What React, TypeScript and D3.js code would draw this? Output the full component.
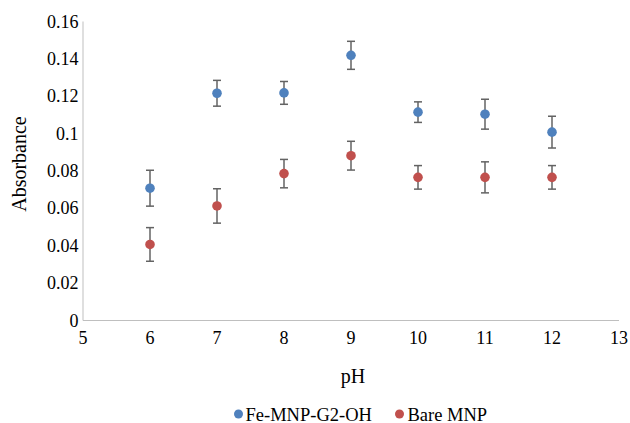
import React from "react";
import * as d3 from "d3";

const phValues = [6, 7, 8, 9, 10, 11, 12];
const feMnpValues = [0.0708, 0.1216, 0.1218, 0.1419, 0.1115, 0.1104, 0.1008];
const feMnpErrors = [0.0096, 0.0069, 0.0061, 0.0075, 0.0055, 0.008, 0.0085];
const bareValues = [0.0407, 0.0613, 0.0786, 0.0882, 0.0766, 0.0766, 0.0766];
const bareErrors = [0.009, 0.0092, 0.0076, 0.0077, 0.0063, 0.0083, 0.0063];
const xTicks = [5, 6, 7, 8, 9, 10, 11, 12, 13];
const yTicks = [0, 0.02, 0.04, 0.06, 0.08, 0.1, 0.12, 0.14, 0.16];
const seriesNames = ["Fe-MNP-G2-OH", "Bare MNP"];
const seriesColors = ["#4F81BD", "#C0504D"];

const W = 630;
const H = 423;
const CSS = `svg.chart text { font-family: "Liberation Serif", "Times New Roman", serif !important; }`;

export default function App() {
  const x = d3.scaleLinear().domain([5, 13]).range([83, 619]);
  const y = d3.scaleLinear().domain([0, 0.16]).range([320.5, 21.5]);

  const series = [
    { name: seriesNames[0], color: seriesColors[0], values: feMnpValues, errors: feMnpErrors },
    { name: seriesNames[1], color: seriesColors[1], values: bareValues, errors: bareErrors },
  ];

  const fmt = (v: number) => (v === 0 ? "0" : String(+v.toFixed(2)));
  const ts: React.CSSProperties = { fontFamily: `"Liberation Serif"` };

  return (
    <div style={{ position: "absolute", left: 0, top: 0, width: W, height: H, background: "#fff" }}>
      <style>{CSS}</style>
      <svg className="chart" width={W} height={H} style={{ display: "block" }}>
        <line x1={x(5)} x2={x(13)} y1={y(0)} y2={y(0)} stroke="#BFBFBF" strokeWidth={1} />
        <line x1={x(5)} x2={x(5)} y1={y(0)} y2={y(0.16)} stroke="#BFBFBF" strokeWidth={1} />

        {yTicks.map((t) => (
          <text key={"y" + t} style={ts} x={x(5) - 4.5} y={y(t) + 6} textAnchor="end" fontSize={18}>
            {fmt(t)}
          </text>
        ))}
        {xTicks.map((t) => (
          <text key={"x" + t} style={ts} x={x(t)} y={343.5} textAnchor="middle" fontSize={18}>
            {t}
          </text>
        ))}

        <text style={ts} transform={`translate(25.5, 164) rotate(-90)`} textAnchor="middle" fontSize={20}>
          Absorbance
        </text>
        <text style={ts} x={353} y={382.5} textAnchor="middle" fontSize={20}>
          pH
        </text>

        {series.map((s) =>
          phValues.map((p, i) => {
            const cx = x(p);
            const top = y(s.values[i] + s.errors[i]);
            const bot = y(s.values[i] - s.errors[i]);
            return (
              <g key={s.name + "e" + p} stroke="#636363" strokeWidth={1.5}>
                <line x1={cx} x2={cx} y1={top} y2={bot} />
                <line x1={cx - 4} x2={cx + 4} y1={top} y2={top} />
                <line x1={cx - 4} x2={cx + 4} y1={bot} y2={bot} />
              </g>
            );
          })
        )}
        {series.map((s) =>
          phValues.map((p, i) => (
            <circle key={s.name + "p" + p} cx={x(p)} cy={y(s.values[i])} r={4.8} fill={s.color} />
          ))
        )}

        <circle cx={238.5} cy={414} r={4.5} fill={seriesColors[0]} />
        <text style={ts} x={245.5} y={420.5} fontSize={18.5}>
          {seriesNames[0]}
        </text>
        <circle cx={399.5} cy={414} r={4.5} fill={seriesColors[1]} />
        <text style={ts} x={407.5} y={420.5} fontSize={18.5}>
          {seriesNames[1]}
        </text>
      </svg>
    </div>
  );
}
